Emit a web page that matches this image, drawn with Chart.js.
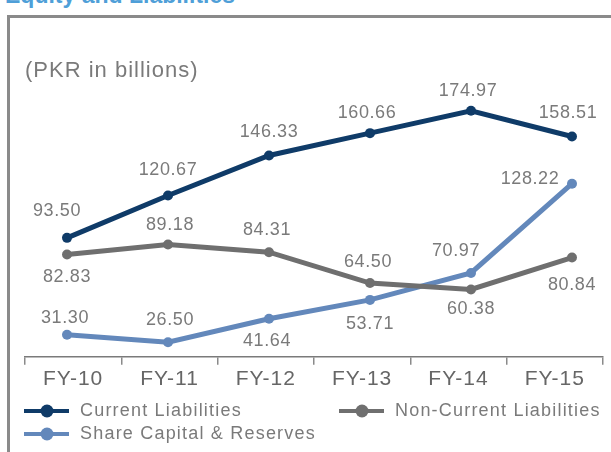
<!DOCTYPE html>
<html>
<head>
<meta charset="utf-8">
<script src="https://cdn.jsdelivr.net/npm/chart.js@4/dist/chart.umd.min.js"></script>
<style>
  html, body { margin: 0; padding: 0; background: #fff; overflow: hidden; }
  body { width: 611px; height: 452px; position: relative; font-family: "Liberation Sans", Arial, sans-serif; }
  .heading { position: absolute; left: 5px; top: -18px; font-size: 23px; font-weight: bold; color: #4f9fd8; white-space: nowrap; }
  .frame { position: absolute; left: 7px; top: 15px; right: -10px; bottom: -10px; border-top: 3px solid #8a8a8a; border-left: 3px solid #8a8a8a; }
  #wrap { position: absolute; left: 0; top: 0; width: 611px; height: 452px; }
  #legend { position: absolute; left: 24px; top: 400px; width: 590px; }
  .item { position: absolute; display: flex; align-items: center; font-size: 18px; letter-spacing: 1.2px; color: #7a7a7a; white-space: nowrap; }
  .item svg { margin-right: 11px; }
</style>
</head>
<body>
<div class="heading">Equity and Liabilities</div>
<div class="frame"></div>
<div id="wrap"><canvas id="myChart" width="611" height="452"></canvas></div>
<div id="legend"></div>
<script>
const years = ["FY-10", "FY-11", "FY-12", "FY-13", "FY-14", "FY-15"];
const currentLiabilities = [93.50, 120.67, 146.33, 160.66, 174.97, 158.51];
const nonCurrentLiabilities = [82.83, 89.18, 84.31, 64.50, 60.38, 80.84];
const shareCapital = [31.30, 26.50, 41.64, 53.71, 70.97, 128.22];

const seriesNames = ["Current Liabilities", "Non-Current Liabilities", "Share Capital & Reserves"];
const seriesColors = ["#0f3b68", "#6f6f6f", "#6388bb"];

// where each value label sits relative to its point (dx, dy)
const labelOffsets = [
  [[-10, -27], [0, -25], [0, -23], [-3, -20], [-3, -20], [-4, -23]],
  [[0, 23], [2, -20], [-2, -22], [-2, -21], [0, 20], [0, 27]],
  [[-2, -17], [2, -22], [-2, 22], [0, 24], [-15, -22], [-42, -5]],
];

const FONT = "'Liberation Sans', Arial, sans-serif";

function toPoints(values) {
  return values.map(function (v, i) {
    return { x: i, y: v };
  });
}

// the canvas loses its state when resized, so set the spacing before measuring and drawing
const spacing = {
  id: "spacing",
  beforeLayout(chart) {
    chart.ctx.letterSpacing = "1px";
  },
  beforeDraw(chart) {
    chart.ctx.letterSpacing = "1px";
  },
};

const valueLabels = {
  id: "valueLabels",
  afterDatasetsDraw(chart) {
    const ctx = chart.ctx;
    ctx.save();
    ctx.font = "18px " + FONT;
    ctx.letterSpacing = "0.6px";
    ctx.fillStyle = "#7a7a7a";
    ctx.textAlign = "center";
    ctx.textBaseline = "middle";
    chart.data.datasets.forEach(function (ds, di) {
      const meta = chart.getDatasetMeta(di);
      meta.data.forEach(function (pt, i) {
        const off = labelOffsets[di][i];
        ctx.fillText(ds.data[i].y.toFixed(2), pt.x + off[0], pt.y + off[1]);
      });
    });
    ctx.restore();
  },
};

const allSeries = [currentLiabilities, nonCurrentLiabilities, shareCapital];

const ctx = document.getElementById("myChart").getContext("2d");

const myChart = new Chart(ctx, {
  type: "line",
  data: {
    labels: years,
    datasets: allSeries.map(function (values, i) {
      return {
        label: seriesNames[i],
        data: toPoints(values),
        xAxisID: "xp",
        borderColor: seriesColors[i],
        backgroundColor: seriesColors[i],
        borderWidth: 5,
        pointRadius: 5,
        pointBorderWidth: 0,
        tension: 0,
      };
    }),
  },
  options: {
    responsive: false,
    animation: false,
    layout: {
      padding: { left: 25, right: 8, top: 0, bottom: 58 },
    },
    scales: {
      xp: {
        type: "linear",
        display: false,
        min: -0.416,
        max: 5.307,
      },
      x: {
        type: "category",
        labels: years,
        offset: true,
        grid: {
          offset: true,
          drawOnChartArea: false,
          tickLength: 8,
          color: "#8a8a8a",
          lineWidth: 1.5,
        },
        border: {
          display: true,
          color: "#7a7a7a",
          width: 1.5,
        },
        ticks: {
          color: "#666",
          padding: 2,
          font: { size: 21, family: FONT },
        },
      },
      y: {
        display: false,
        min: 17.2,
        max: 190,
      },
    },
    plugins: {
      legend: { display: false },
      tooltip: { enabled: false },
      title: {
        display: true,
        text: "(PKR in billions)",
        align: "start",
        color: "#7a7a7a",
        font: { size: 22, weight: "normal", family: FONT },
        padding: { top: 58, bottom: 3 },
      },
    },
  },
  plugins: [spacing, valueLabels],
});

// legend built from the chart's own datasets
const legendSpots = [[0, 0], [315, 0], [0, 23]];
const legendEl = document.getElementById("legend");
myChart.data.datasets.forEach(function (ds, i) {
  const item = document.createElement("div");
  item.className = "item";
  item.style.left = legendSpots[i][0] + "px";
  item.style.top = legendSpots[i][1] + "px";
  item.innerHTML =
    '<svg width="45" height="14"><line x1="0" y1="7" x2="45" y2="7" stroke="' + ds.borderColor +
    '" stroke-width="4"/><circle cx="23" cy="7" r="6.5" fill="' + ds.borderColor + '"/></svg>' +
    "<span>" + ds.label + "</span>";
  legendEl.appendChild(item);
});
</script>
</body>
</html>
